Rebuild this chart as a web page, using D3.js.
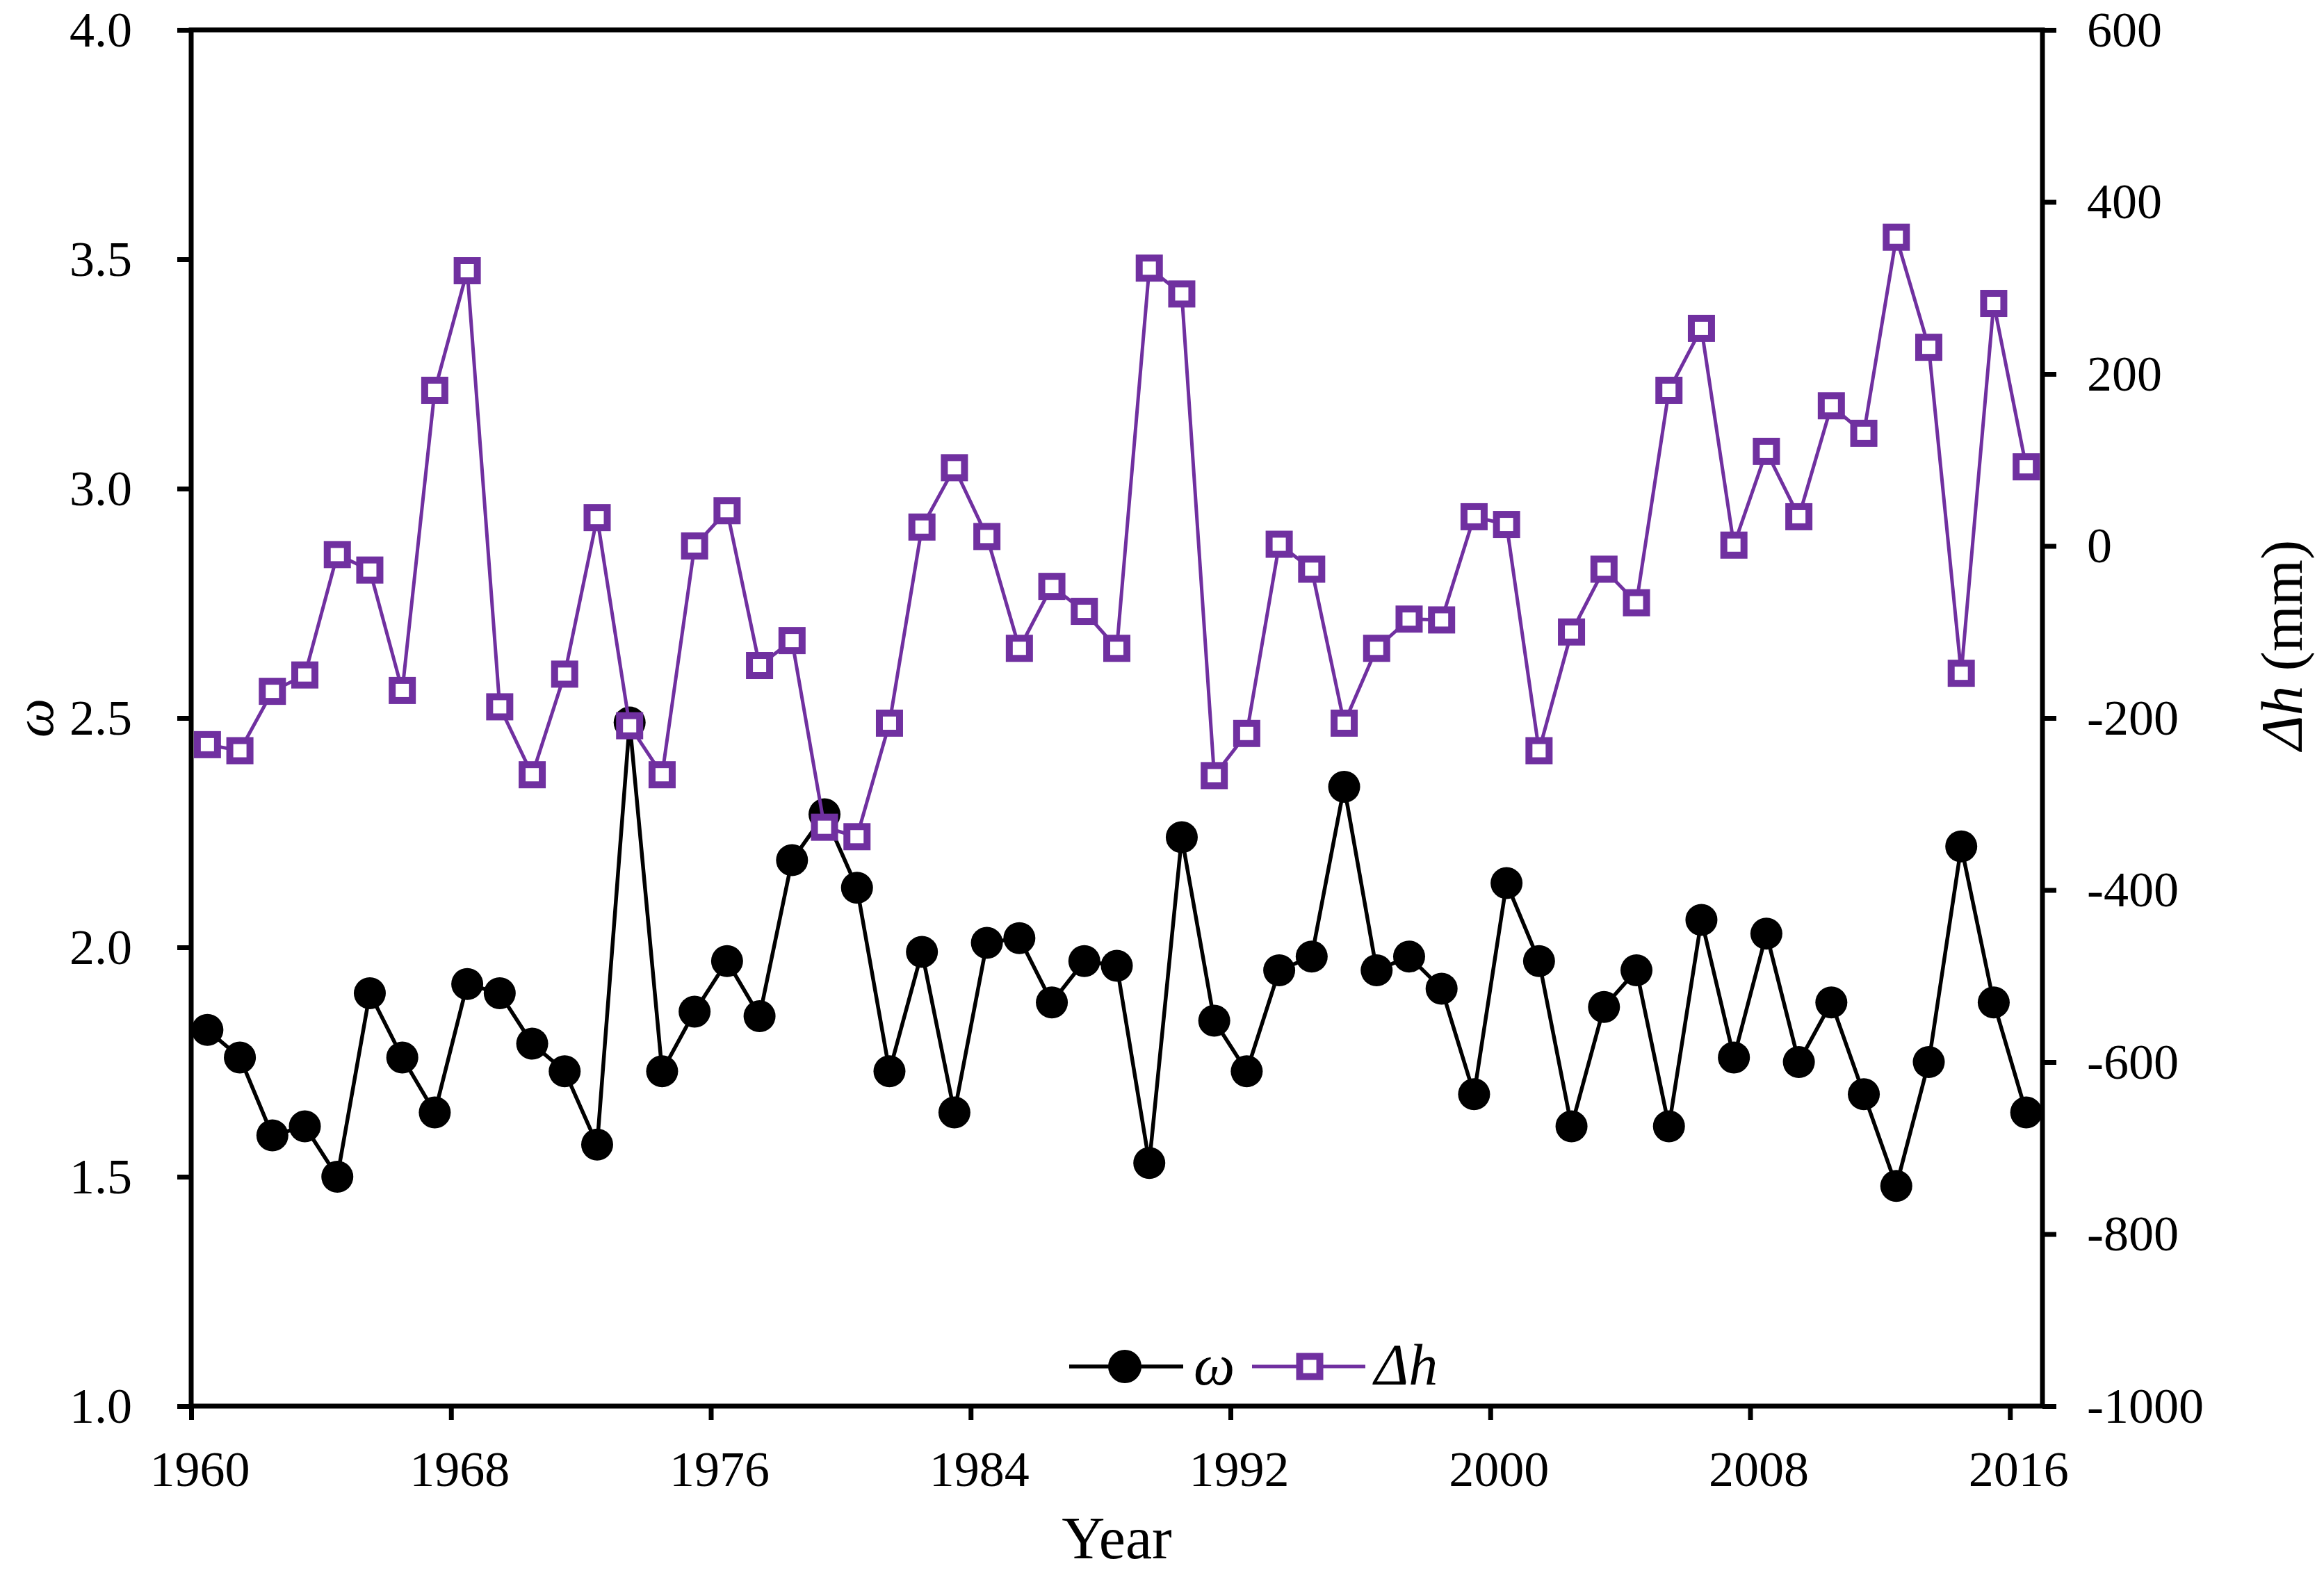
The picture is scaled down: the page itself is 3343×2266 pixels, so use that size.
<!DOCTYPE html>
<html>
<head>
<meta charset="utf-8">
<script src="https://d3js.org/d3.v7.min.js"></script>
<style>
  body { margin: 0; background: #fff; }
  text { font-family: "Liberation Serif", "Times New Roman", serif; }
</style>
</head>
<body>
<div id="chart"></div>
<script>
// years on the x axis
var years = [1960,1961,1962,1963,1964,1965,1966,1967,1968,1969,
             1970,1971,1972,1973,1974,1975,1976,1977,1978,1979,
             1980,1981,1982,1983,1984,1985,1986,1987,1988,1989,
             1990,1991,1992,1993,1994,1995,1996,1997,1998,1999,
             2000,2001,2002,2003,2004,2005,2006,2007,2008,2009,
             2010,2011,2012,2013,2014,2015,2016];

// omega, left axis
var omega = [1.82,1.76,1.59,1.61,1.50,1.90,1.76,1.64,1.92,1.90,
             1.79,1.73,1.57,2.49,1.73,1.86,1.97,1.85,2.19,2.29,
             2.13,1.73,1.99,1.64,2.01,2.02,1.88,1.97,1.96,1.53,
             2.24,1.84,1.73,1.95,1.98,2.35,1.95,1.98,1.91,1.68,
             2.14,1.97,1.61,1.87,1.95,1.61,2.06,1.76,2.03,1.75,
             1.88,1.68,1.48,1.75,2.22,1.88,1.64];

// delta h (mm), right axis
var dh = [-231,-238,-169,-150,-10,-28,-168,181,320,-187,
          -266,-149,33,-209,-266,0,41,-139,-110,-327,
          -338,-206,22,91,11,-119,-47,-76,-119,323,
          293,-267,-218,2,-27,-206,-119,-85,-86,34,
          25,-238,-100,-27,-66,181,253,1,110,34,
          163,131,359,231,-148,282,92];

var xTicks = [1960,1968,1976,1984,1992,2000,2008,2016];
var leftTicks = [1.0,1.5,2.0,2.5,3.0,3.5,4.0];
var rightTicks = [-1000,-800,-600,-400,-200,0,200,400,600];

var W = 3343, H = 2266;
var margin = {top: 43, right: 405, bottom: 243, left: 275},
    width = W - margin.left - margin.right,
    height = H - margin.top - margin.bottom;

var purple = "#7030A0";

var svg = d3.select("#chart")
    .append("svg")
    .attr("width", W)
    .attr("height", H)
    .append("g")
    .attr("transform", "translate(" + margin.left + "," + margin.top + ")");

var x = d3.scaleLinear().domain([1960, 2017]).range([0, width]);
var yL = d3.scaleLinear().domain([1, 4]).range([height, 0]);
var yR = d3.scaleLinear().domain([-1000, 600]).range([height, 0]);

// axes
function styleAxis(g) {
    g.select(".domain").remove();
    g.selectAll(".tick line").attr("stroke", "#000").attr("stroke-width", 7);
    g.selectAll(".tick text")
        .attr("fill", "#000")
        .style("font-family", "'Liberation Serif', 'Times New Roman', serif")
        .style("font-size", "72px");
}

svg.append("g")
    .attr("transform", "translate(0," + height + ")")
    .call(d3.axisBottom(x).tickValues(xTicks).tickFormat(d3.format("d"))
        .tickSize(20).tickPadding(44))
    .call(styleAxis)
    .selectAll(".tick text").attr("dx", 12);

svg.append("g")
    .call(d3.axisLeft(yL).tickValues(leftTicks).tickFormat(d3.format(".1f"))
        .tickSize(20).tickPadding(65))
    .call(styleAxis);

svg.append("g")
    .attr("transform", "translate(" + width + ",0)")
    .call(d3.axisRight(yR).tickValues(rightTicks).tickFormat(function(d) { return d.toString(); })
        .tickSize(20).tickPadding(44))
    .call(styleAxis);

// frame
svg.append("rect")
    .attr("x", 0).attr("y", 0)
    .attr("width", width).attr("height", height)
    .attr("fill", "none")
    .attr("stroke", "#000")
    .attr("stroke-width", 7);

// axis titles
svg.append("text")
    .attr("x", (width) / 2)
    .attr("y", H - margin.top - 24)
    .attr("text-anchor", "middle")
    .style("font-size", "86px")
    .text("Year");

svg.append("text")
    .attr("transform", "translate(" + (-margin.left + 76) + "," + (height / 2) + ")rotate(-90)")
    .attr("text-anchor", "middle")
    .style("font-size", "80px")
    .style("font-style", "italic")
    .text("ω");

var rt = svg.append("text")
    .attr("transform", "translate(" + (width + 373) + "," + (height / 2 - 105) + ")rotate(-90)")
    .attr("text-anchor", "middle")
    .style("font-size", "85px");
rt.append("tspan").style("font-style", "italic").text("Δh");
rt.append("tspan").text(" (mm)");

// omega series
var lineL = d3.line()
    .x(function(d, i) { return x(years[i] + 0.5); })
    .y(function(d) { return yL(d); });

svg.append("path")
    .datum(omega)
    .attr("d", lineL)
    .attr("fill", "none")
    .attr("stroke", "#000")
    .attr("stroke-width", 5.5);

svg.selectAll(".dotL")
    .data(omega)
    .enter()
    .append("circle")
    .attr("cx", function(d, i) { return x(years[i] + 0.5); })
    .attr("cy", function(d) { return yL(d); })
    .attr("r", 23)
    .attr("fill", "#000");

// delta h series
var lineR = d3.line()
    .x(function(d, i) { return x(years[i] + 0.5); })
    .y(function(d) { return yR(d); });

svg.append("path")
    .datum(dh)
    .attr("d", lineR)
    .attr("fill", "none")
    .attr("stroke", purple)
    .attr("stroke-width", 5);

var sq = 29;
svg.selectAll(".dotR")
    .data(dh)
    .enter()
    .append("rect")
    .attr("x", function(d, i) { return x(years[i] + 0.5) - sq / 2; })
    .attr("y", function(d) { return yR(d) - sq / 2; })
    .attr("width", sq)
    .attr("height", sq)
    .attr("fill", "#fff")
    .attr("stroke", purple)
    .attr("stroke-width", 10);

// legend
var lg = svg.append("g")
    .attr("transform", "translate(" + (1538 - margin.left) + "," + (1966 - margin.top) + ")");

lg.append("line").attr("x1", 0).attr("x2", 164).attr("y1", 0).attr("y2", 0)
    .attr("stroke", "#000").attr("stroke-width", 5.5);
lg.append("circle").attr("cx", 80).attr("cy", 0).attr("r", 24).attr("fill", "#000");
lg.append("text").attr("x", 179).attr("y", 26)
    .style("font-size", "84px").style("font-style", "italic").text("ω");

lg.append("line").attr("x1", 263).attr("x2", 426).attr("y1", 0).attr("y2", 0)
    .attr("stroke", purple).attr("stroke-width", 5);
lg.append("rect").attr("x", 346 - sq / 2).attr("y", -sq / 2)
    .attr("width", sq).attr("height", sq)
    .attr("fill", "#fff").attr("stroke", purple).attr("stroke-width", 10);
lg.append("text").attr("x", 439).attr("y", 26)
    .style("font-size", "84px").style("font-style", "italic").text("Δh");
</script>
</body>
</html>
